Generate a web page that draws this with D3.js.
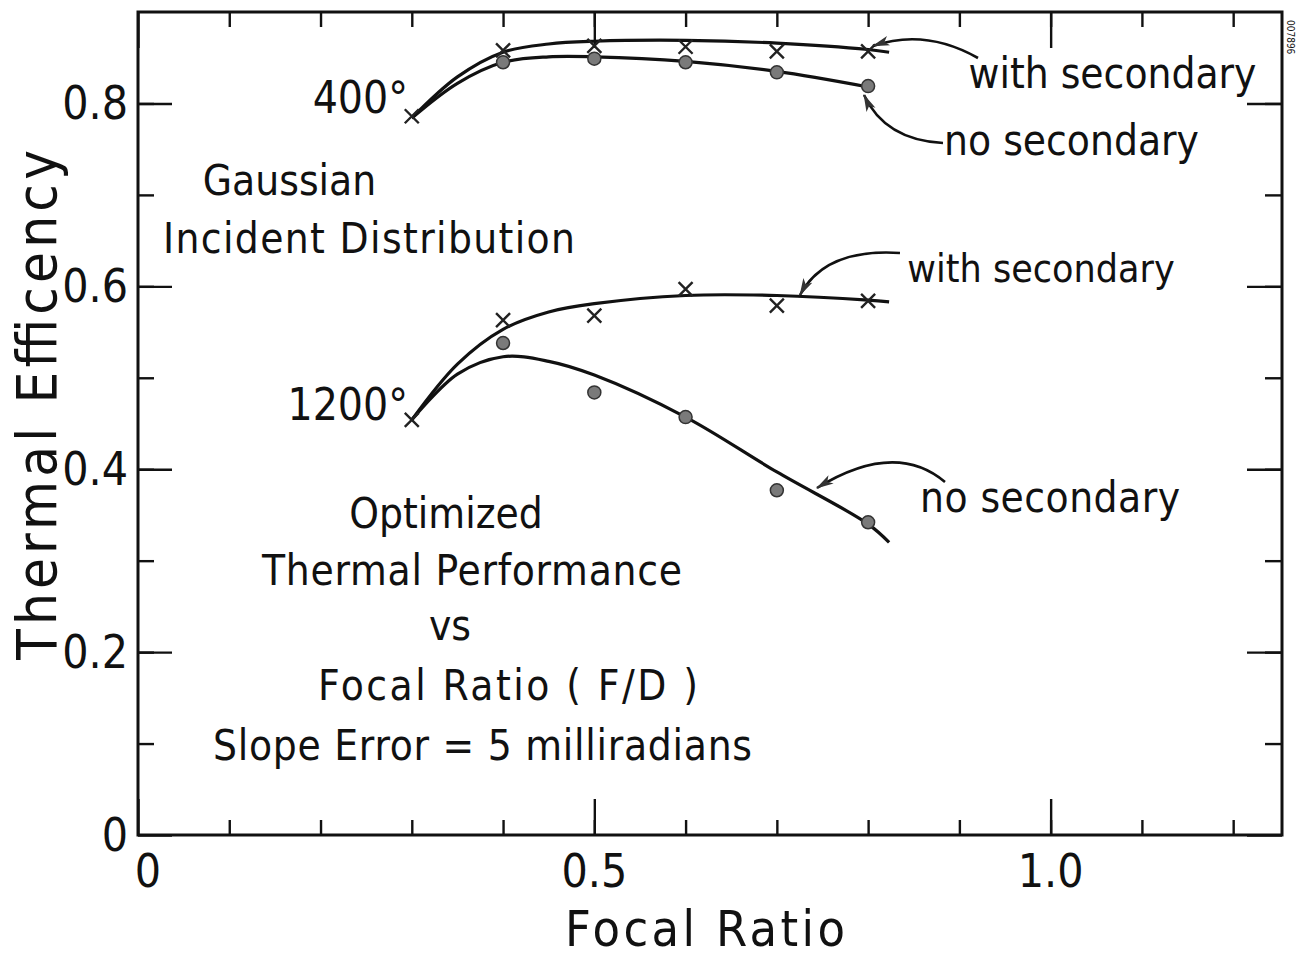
<!DOCTYPE html>
<html>
<head>
<meta charset="utf-8">
<script src="https://cdn.jsdelivr.net/npm/d3@7"></script>
<style>
  body { margin: 0; background: #fff; }
  svg text { font-family: "DejaVu Sans Condensed", "DejaVu Sans", sans-serif; fill: #111; }
</style>
</head>
<body>
<div class="graph"></div>
<script>
// focal ratios where points were measured
var ratios = [0.3, 0.4, 0.5, 0.6, 0.7, 0.8];

// measured efficiencies (x = with secondary, dot = no secondary)
var with400 = [0.786, 0.858, 0.863, 0.862, 0.857, 0.857];
var no400 = [null, 0.845, 0.849, 0.845, 0.834, 0.819];
var with1200 = [0.454, 0.563, 0.568, 0.597, 0.579, 0.584];
var no1200 = [null, 0.538, 0.484, 0.457, 0.377, 0.342];

// hand-drawn fitted curves
var curveX = [0.3, 0.35, 0.4, 0.45, 0.5, 0.6, 0.7, 0.8, 0.823];
var fitWith400 = [0.784, 0.829, 0.856, 0.865, 0.868, 0.869, 0.866, 0.859, 0.856];
var fitNo400 = [0.784, 0.822, 0.845, 0.851, 0.851, 0.846, 0.835, 0.818, null];
var fitWith1200 = [0.454, 0.515, 0.553, 0.572, 0.581, 0.590, 0.590, 0.585, 0.583];
var fitNo1200 = [0.454, 0.504, 0.523, 0.518, 0.503, 0.457, 0.397, 0.340, 0.320];

var xTicks = [0, 0.5, 1.0];
var xTickLabels = ["0", "0.5", "1.0"];
var yTicks = [0, 0.2, 0.4, 0.6, 0.8];
var yTickLabels = ["0", "0.2", "0.4", "0.6", "0.8"];

var W = 1297, H = 961;
var margin = { top: 12, right: 15, bottom: 126, left: 138 };
var w = W - margin.left - margin.right;
var h = H - margin.top - margin.bottom;

var svg = d3.select(".graph").append("svg")
    .attr("width", W)
    .attr("height", H);

var x = d3.scaleLinear().domain([0, 1.2535]).range([0, w]);
var y = d3.scaleLinear().domain([0, 0.9]).range([h, 0]);

var g = svg.append("g").attr("transform", "translate(" + margin.left + "," + margin.top + ")");

var minorX = d3.range(0.1, 1.25, 0.1);
var minorY = d3.range(0.1, 0.9, 0.1);

function styleAxis(sel) {
    sel.select(".domain").remove();
    sel.selectAll("line").attr("stroke", "#111").attr("stroke-width", 2.4);
    sel.selectAll("text").remove();
}

// minor ticks on all four sides
g.append("g").attr("transform", "translate(0," + h + ")")
    .call(d3.axisBottom(x).tickValues(minorX).tickSize(-15)).call(styleAxis);
g.append("g")
    .call(d3.axisTop(x).tickValues(minorX).tickSize(-15)).call(styleAxis);
g.append("g")
    .call(d3.axisLeft(y).tickValues(minorY).tickSize(-16)).call(styleAxis);
g.append("g").attr("transform", "translate(" + w + ",0)")
    .call(d3.axisRight(y).tickValues(minorY).tickSize(-17)).call(styleAxis);

// major ticks
g.append("g").attr("transform", "translate(0," + h + ")")
    .call(d3.axisBottom(x).tickValues(xTicks).tickSize(-36)).call(styleAxis);
g.append("g")
    .call(d3.axisTop(x).tickValues(xTicks).tickSize(-36)).call(styleAxis);
g.append("g")
    .call(d3.axisLeft(y).tickValues(yTicks).tickSize(-34)).call(styleAxis);
g.append("g").attr("transform", "translate(" + w + ",0)")
    .call(d3.axisRight(y).tickValues(yTicks).tickSize(-35)).call(styleAxis);

// frame
g.append("rect")
    .attr("width", w).attr("height", h)
    .attr("fill", "none").attr("stroke", "#111").attr("stroke-width", 3);

// tick labels
g.selectAll(".xlab").data(xTicks).enter().append("text")
    .attr("x", function(d, i) { return x(d) + (i === 0 ? 10 : 0); })
    .attr("y", h + 52)
    .attr("text-anchor", "middle")
    .attr("font-size", 46)
    .text(function(d, i) { return xTickLabels[i]; });

g.selectAll(".ylab").data(yTicks).enter().append("text")
    .attr("x", -10)
    .attr("y", function(d) { return y(d) + 16; })
    .attr("text-anchor", "end")
    .attr("font-size", 46)
    .text(function(d, i) { return yTickLabels[i]; });

// axis titles
svg.append("text")
    .attr("x", 705).attr("y", 946)
    .attr("text-anchor", "middle")
    .attr("font-size", 50)
    .attr("textLength", 280)
    .attr("lengthAdjust", "spacing")
    .text("Focal Ratio");

svg.append("text")
    .attr("transform", "translate(56,405) rotate(-90)")
    .attr("text-anchor", "middle")
    .attr("font-size", 56)
    .attr("textLength", 510)
    .attr("lengthAdjust", "spacing")
    .text("Thermal Efficency");

// fitted curves
var line = d3.line()
    .x(function(d) { return x(d[0]); })
    .y(function(d) { return y(d[1]); })
    .curve(d3.curveCatmullRom.alpha(0.5));

[fitWith400, fitNo400, fitWith1200, fitNo1200].forEach(function(vals) {
    var pts = curveX.map(function(cx, i) { return [cx, vals[i]]; })
        .filter(function(p) { return p[1] !== null; });
    g.append("path")
        .datum(pts)
        .attr("d", line)
        .attr("fill", "none")
        .attr("stroke", "#111")
        .attr("stroke-width", 3.2);
});

// x markers (with secondary)
function crosses(vals) {
    var pts = ratios.map(function(r, i) { return [r, vals[i]]; })
        .filter(function(p) { return p[1] !== null; });
    g.selectAll(null).data(pts).enter().append("path")
        .attr("d", function(d) {
            var cx = x(d[0]), cy = y(d[1]), s = 7;
            return "M" + (cx - s) + "," + (cy - s) + "L" + (cx + s) + "," + (cy + s) +
                   "M" + (cx + s) + "," + (cy - s) + "L" + (cx - s) + "," + (cy + s);
        })
        .attr("stroke", "#222")
        .attr("stroke-width", 2.4)
        .attr("fill", "none");
}
// dots (no secondary)
function dots(vals) {
    var pts = ratios.map(function(r, i) { return [r, vals[i]]; })
        .filter(function(p) { return p[1] !== null; });
    g.selectAll(null).data(pts).enter().append("circle")
        .attr("cx", function(d) { return x(d[0]); })
        .attr("cy", function(d) { return y(d[1]); })
        .attr("r", 6.5)
        .attr("fill", "#7a7a7a")
        .attr("stroke", "#333")
        .attr("stroke-width", 1.5);
}
crosses(with400);
dots(no400);
crosses(with1200);
dots(no1200);

// arrow head
svg.append("defs").append("marker")
    .attr("id", "head")
    .attr("viewBox", "0 -5 16 10")
    .attr("refX", 15).attr("refY", 0)
    .attr("markerUnits", "userSpaceOnUse")
    .attr("markerWidth", 18).attr("markerHeight", 11)
    .attr("orient", "auto")
    .append("path")
    .attr("d", "M0,-4.5L16,0L0,4.5L4,0Z")
    .attr("fill", "#333");

// annotation arrows: start, control, tip (pixels)
var arrows = [
    [[978, 58], [925, 28], [873, 46]],
    [[943, 143], [885, 140], [864, 95]],
    [[900, 253], [825, 248], [800, 295]],
    [[945, 482], [895, 440], [817, 488]]
];
arrows.forEach(function(a) {
    svg.append("path")
        .attr("d", "M" + a[0][0] + "," + a[0][1] + "Q" + a[1][0] + "," + a[1][1] + " " + a[2][0] + "," + a[2][1])
        .attr("fill", "none")
        .attr("stroke", "#111")
        .attr("stroke-width", 2.6)
        .attr("marker-end", "url(#head)");
});

// labels: text, x start, baseline, width, size
var labels = [
    ["with secondary", 970, 88, 285, 42],
    ["no secondary", 945, 155, 253, 42],
    ["with secondary", 910, 282, 262, 39],
    ["no secondary", 920, 512, 260, 42],
    ["400°", 320, 113, 88, 44],
    ["1200°", 293, 420, 115, 44],
    ["Gaussian", 222, 195, 135, 42],
    ["Incident Distribution", 163, 253, 412, 42],
    ["Optimized", 350, 528, 192, 42],
    ["Thermal Performance", 262, 585, 420, 42],
    ["vs", 431, 640, 38, 42],
    ["Focal Ratio ( F/D )", 318, 700, 380, 42],
    ["Slope Error = 5 milliradians", 213, 760, 539, 42]
];
svg.selectAll(".note").data(labels).enter().append("text")
    .attr("x", function(d) { return d[1] + d[3] / 2; })
    .attr("y", function(d) { return d[2]; })
    .attr("text-anchor", "middle")
    .attr("font-size", function(d) { return d[4]; })
    .text(function(d) { return d[0]; })
    .each(function(d) {
        // only spread text that is narrower than the lettering it copies
        var natural = this.getComputedTextLength();
        if (natural < d[3]) {
            d3.select(this).attr("textLength", d[3]).attr("lengthAdjust", "spacing");
        } else if (d[0] === "1200°" || d[0] === "400°") {
            // keep the right edge against the curve start
            d3.select(this).attr("text-anchor", "end").attr("x", d[1] + d[3]);
        }
    });

// archive number
svg.append("text")
    .attr("transform", "translate(1287,20) rotate(90)")
    .attr("font-size", 10)
    .text("007896");
</script>
</body>
</html>
